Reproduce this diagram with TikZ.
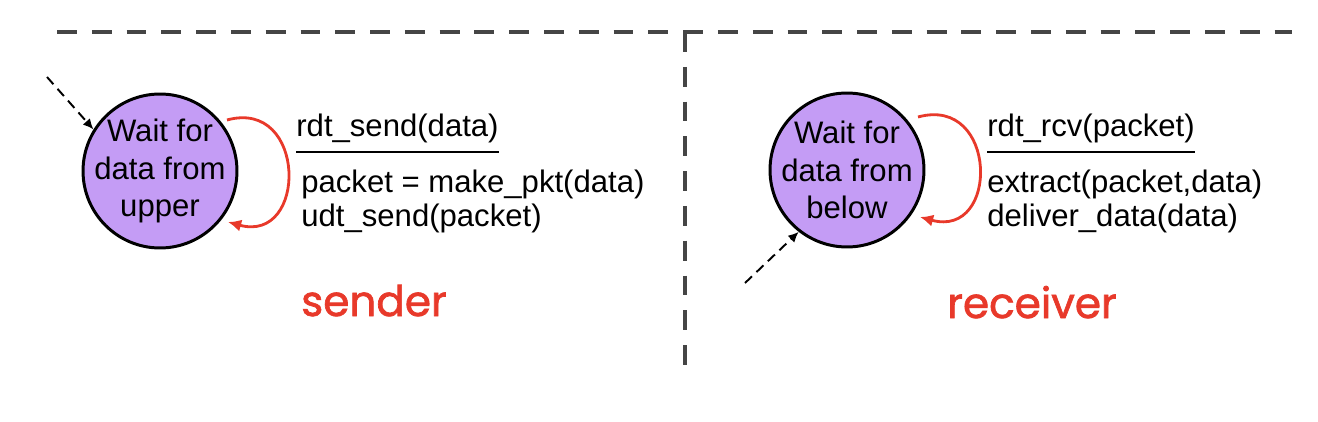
\documentclass[tikz,border=0pt]{standalone}
\usepackage{fontspec}
\setmainfont{Liberation Sans}
\newfontfamily\handfont[FakeBold=1.6]{Poppins}
\usepackage{xcolor}
\usepackage{tikz}
\usetikzlibrary{arrows.meta}
\definecolor{statefill}{HTML}{C49CF5}
\definecolor{loopred}{HTML}{E8392A}
\definecolor{dashgray}{HTML}{454545}
\tikzset{
  state/.style={circle, draw, line width=1.7pt, fill=statefill, minimum size=3.08cm,
    inner sep=-0.3cm, align=center, font=\fontsize{17.7}{21.3}\selectfont},
  txt/.style={anchor=base west, inner sep=0pt, font=\fontsize{17.7}{21.3}\selectfont},
  selfloop/.style={loopred, line width=1.6pt, -{Latex[length=7.5pt,width=7pt]}},
  initarrow/.style={black, line width=1.1pt, dash pattern=on 5.5pt off 3.5pt,
    -{Latex[length=6pt,width=5.5pt]}},
  divider/.style={dashgray, line width=2.8pt, dash pattern=on 11.3pt off 8.5pt},
  sidelabel/.style={anchor=base, inner sep=0pt, text=loopred,
    font=\handfont\fontsize{24}{28}\selectfont}
}

\begin{document}
\begin{tikzpicture}[x=0.02cm, y=0.02cm]
  \useasboundingbox (0,0) rectangle (1318,-422);
  % dividers
  \coordinate (topleft) at (57,-32);
  \coordinate (topright) at (1292,-32);
  \coordinate (midtop) at (685,-32);
  \coordinate (midbot) at (685,-365);
  \draw[divider] (topleft) -- (topright);
  \draw[divider] (midtop) -- (midbot);
  % sender
  \node[state] (snd) at (160,-171) {Wait for\\data from\\upper};
  \coordinate (sndinit) at (47,-77);
  \draw[initarrow] (sndinit) -- (snd.148);
  \draw[selfloop] ([shift={(67,51)}]snd.center) .. controls +(80,22) and +(80,-22) .. ([shift={(68,-51)}]snd.center);
  \node[txt] (sndevent) at (296,-137) {rdt\_send(data)};
  \draw[line width=1.1pt] ([yshift=-0.3cm]sndevent.base west) -- ([yshift=-0.3cm]sndevent.base east);
  \node[txt] (sndact1) at (301,-193) {packet = make\_pkt(data)};
  \node[txt] (sndact2) at (301,-227) {udt\_send(packet)};
  \node[sidelabel] (sndlabel) at (374,-316) {sender};
  % receiver
  \node[state] (rcv) at (847,-170) {Wait for\\data from\\below};
  \coordinate (rcvinit) at (745,-283);
  \draw[initarrow] (rcvinit) -- (rcv.232);
  \draw[selfloop] ([shift={(71,53)}]rcv.center) .. controls +(80,22) and +(80,-22) .. ([shift={(73,-47)}]rcv.center);
  \node[txt] (rcvevent) at (987,-137) {rdt\_rcv(packet)};
  \draw[line width=1.1pt] ([yshift=-0.3cm]rcvevent.base west) -- ([yshift=-0.3cm]rcvevent.base east);
  \node[txt] (rcvact1) at (987,-193) {extract(packet,data)};
  \node[txt] (rcvact2) at (987,-227) {deliver\_data(data)};
  \node[sidelabel] (rcvlabel) at (1032,-318) {receiver};
\end{tikzpicture}
\end{document}
